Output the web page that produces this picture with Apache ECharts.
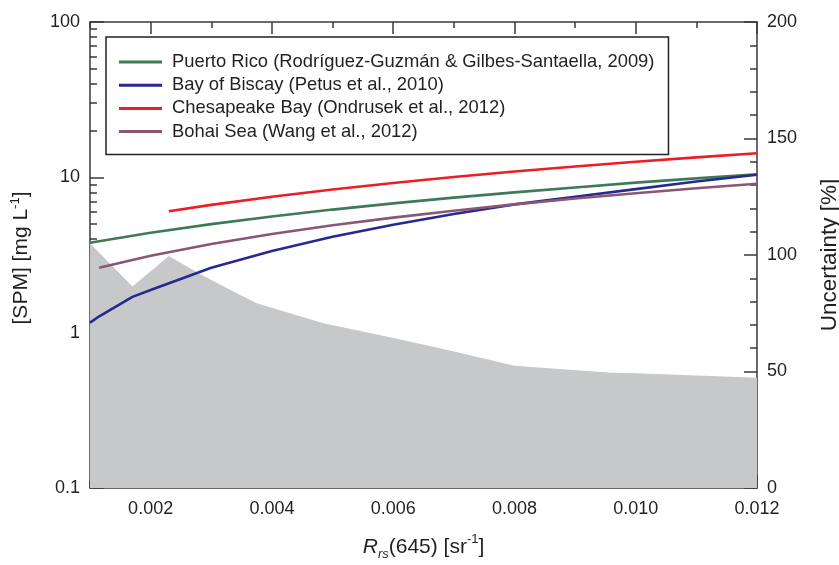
<!DOCTYPE html>
<html><head><meta charset="utf-8">
<script src="https://cdn.jsdelivr.net/npm/echarts@6/dist/echarts.min.js"></script>
<style>html,body{margin:0;padding:0;background:#fff}#c{width:839px;height:565px}</style>
</head><body><div id="c"></div>
<script>
// ---- data ----
const seriesNames = [
  'Puerto Rico (Rodríguez-Guzmán & Gilbes-Santaella, 2009)',
  'Bay of Biscay (Petus et al., 2010)',
  'Chesapeake Bay (Ondrusek et al., 2012)',
  'Bohai Sea (Wang et al., 2012)'
];
const puertoRicoX = [0.001,0.002,0.003,0.004,0.005,0.006,0.007,0.008,0.009,0.010,0.011,0.012];
const puertoRicoY = [3.79,4.4,5.0,5.6,6.2,6.8,7.4,8.0,8.6,9.25,9.85,10.45];
const biscayX = [0.001,0.00116,0.0017,0.002,0.003,0.004,0.005,0.006,0.007,0.008,0.009,0.010,0.011,0.012];
const biscayY = [1.16,1.28,1.7,1.88,2.62,3.36,4.15,4.95,5.8,6.7,7.5,8.4,9.4,10.4];
const chesapeakeX = [0.0023,0.003,0.004,0.005,0.006,0.007,0.008,0.009,0.010,0.011,0.012];
const chesapeakeY = [6.05,6.65,7.5,8.35,9.2,10.05,10.9,11.75,12.6,13.45,14.3];
const bohaiX = [0.00115,0.002,0.003,0.004,0.005,0.006,0.007,0.008,0.009,0.010,0.011,0.012];
const bohaiY = [2.62,3.13,3.72,4.32,4.91,5.5,6.1,6.7,7.3,7.9,8.5,9.1];
const uncertaintyX = [0.001,0.0017,0.0023,0.0028,0.0033,0.00375,0.00485,0.00595,0.0069,0.008,0.0096,0.010,0.012];
const uncertaintyY = [105,86.5,99.6,92.1,85.2,79.3,70.7,64.7,59.2,52.5,49.5,49.2,47.3];
const xMajorTicks = [0.002,0.004,0.006,0.008,0.010,0.012];
const yMinorTicks = [0.2,0.3,0.4,0.5,0.6,0.7,0.8,0.9,2,3,4,5,6,7,8,9,20,30,40,50,60,70,80,90];
const colors = ['#3f7a58','#27298f','#ee1d25','#8a5673'];

const FONT = 'Liberation Sans, Arial, sans-serif';
const AX = '#3a3a3a';
const TXT = '#231f20';
const pairs = (xs, ys) => xs.map((x, i) => [x, ys[i]]);

const chart = echarts.init(document.getElementById('c'), null, {renderer: 'canvas'});
const lineCommon = {show: true, lineStyle: {color: AX, width: 1.5}};
const xBase = {type: 'value', min: 0.001, max: 0.012, splitLine: {show: false}};
chart.setOption({
  animation: false,
  backgroundColor: '#fff',
  grid: {left: 90, right: 82, top: 22, bottom: 77, containLabel: false, outerBoundsMode: 'none'},
  legend: {
    orient: 'vertical', left: 106, top: 37,
    padding: [16, 14, 14, 13],
    itemGap: 5.2, itemWidth: 43, itemHeight: 3, icon: 'rect',
    borderColor: '#222', borderWidth: 1.5, backgroundColor: '#fff',
    textStyle: {fontSize: 18.4, color: TXT, fontFamily: FONT, padding: [0, 0, 0, 5]},
    data: seriesNames
  },
  xAxis: [
    Object.assign({}, xBase, {
      position: 'bottom', interval: 0.001,
      axisLine: lineCommon,
      axisTick: {show: true, inside: true, length: 7, lineStyle: {color: AX, width: 1.5}},
      axisLabel: {margin: 12, fontSize: 18, color: TXT, fontFamily: FONT,
        formatter: v => (Math.round(v * 1000) % 2 === 0) ? v.toFixed(3) : ''},
      name: '{it|R}{sub|rs}(645) [sr{sup|-1}]',
      nameLocation: 'middle', nameGap: 45,
      nameTextStyle: {fontSize: 21, color: TXT, fontFamily: FONT, lineHeight: 28,
        rich: {
          it: {fontSize: 21, fontStyle: 'italic', color: TXT, fontFamily: FONT},
          sub: {fontSize: 13, fontStyle: 'italic', color: TXT, fontFamily: FONT, verticalAlign: 'bottom', lineHeight: 13},
          sup: {fontSize: 13, color: TXT, fontFamily: FONT, verticalAlign: 'top', lineHeight: 13}
        }}
    }),
    Object.assign({}, xBase, {
      position: 'bottom', interval: 0.001,
      axisLine: {show: false},
      axisTick: {show: true, inside: true, length: 13, customValues: xMajorTicks, lineStyle: {color: AX, width: 1.5}},
      axisLabel: {show: false}
    }),
    Object.assign({}, xBase, {
      position: 'top', interval: 0.001,
      axisLine: lineCommon,
      axisTick: {show: true, inside: true, length: 6, lineStyle: {color: AX, width: 1.5}},
      axisLabel: {show: false}
    }),
    Object.assign({}, xBase, {
      position: 'top', interval: 0.001,
      axisLine: {show: false},
      axisTick: {show: true, inside: true, length: 12, customValues: xMajorTicks, lineStyle: {color: AX, width: 1.5}},
      axisLabel: {show: false}
    })
  ],
  yAxis: [
    {
      type: 'log', logBase: 10, min: 0.1, max: 100, position: 'left',
      axisLine: lineCommon,
      axisTick: {show: true, inside: true, length: 14, lineStyle: {color: AX, width: 1.5}},
      axisLabel: {margin: 10, fontSize: 18, color: TXT, fontFamily: FONT,
        formatter: v => String(+(+v).toPrecision(3))},
      splitLine: {show: false},
      name: '[SPM] [mg L{sup|-1}]',
      nameLocation: 'middle', nameGap: 57,
      nameTextStyle: {fontSize: 21, color: TXT, fontFamily: FONT, lineHeight: 24, padding: [0, 6, 0, 0],
        rich: {sup: {fontSize: 13, color: TXT, fontFamily: FONT, verticalAlign: 'top', lineHeight: 13}}}
    },
    {
      type: 'log', logBase: 10, min: 0.1, max: 100, position: 'left',
      axisLine: {show: false},
      axisTick: {show: true, inside: true, length: 7, customValues: yMinorTicks, lineStyle: {color: AX, width: 1.5}},
      axisLabel: {show: false},
      splitLine: {show: false}
    },
    {
      type: 'value', min: 0, max: 200, interval: 50, position: 'right',
      axisLine: lineCommon,
      axisTick: {show: true, inside: true, length: 13, lineStyle: {color: AX, width: 1.5}},
      minorTick: {show: true, splitNumber: 5, length: 7, lineStyle: {color: AX, width: 1.5}},
      axisLabel: {margin: 10, fontSize: 18, color: TXT, fontFamily: FONT},
      splitLine: {show: false},
      name: 'Uncertainty [%]',
      nameLocation: 'middle', nameGap: 61,
      nameTextStyle: {fontSize: 22.5, color: TXT, fontFamily: FONT}
    }
  ],
  series: [
    {
      name: 'Uncertainty', type: 'line', xAxisIndex: 0, yAxisIndex: 2,
      data: pairs(uncertaintyX, uncertaintyY), symbol: 'none', silent: true,
      lineStyle: {width: 0, color: '#c7c8ca'},
      areaStyle: {color: '#c7c8ca', opacity: 1}, z: 1
    },
    {name: seriesNames[0], type: 'line', xAxisIndex: 0, yAxisIndex: 0, data: pairs(puertoRicoX, puertoRicoY),
      symbol: 'none', color: colors[0], lineStyle: {width: 2.6, color: colors[0]}, z: 3},
    {name: seriesNames[1], type: 'line', xAxisIndex: 0, yAxisIndex: 0, data: pairs(biscayX, biscayY),
      symbol: 'none', color: colors[1], lineStyle: {width: 2.6, color: colors[1]}, z: 3},
    {name: seriesNames[2], type: 'line', xAxisIndex: 0, yAxisIndex: 0, data: pairs(chesapeakeX, chesapeakeY),
      symbol: 'none', color: colors[2], lineStyle: {width: 2.6, color: colors[2]}, z: 3},
    {name: seriesNames[3], type: 'line', xAxisIndex: 0, yAxisIndex: 0, data: pairs(bohaiX, bohaiY),
      symbol: 'none', color: colors[3], lineStyle: {width: 2.6, color: colors[3]}, z: 3}
  ]
});
</script></body></html>
